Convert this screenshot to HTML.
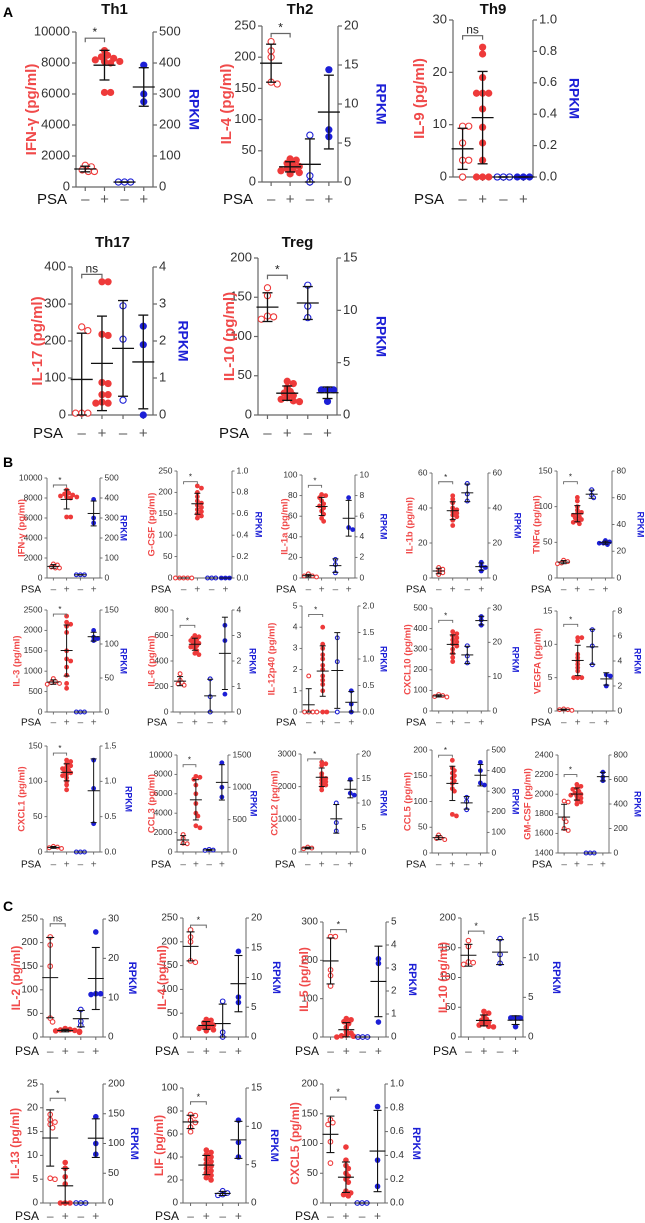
<!DOCTYPE html>
<html><head><meta charset="utf-8"><title>Cytokine panels</title>
<style>
html,body{margin:0;padding:0;background:#fff;}
svg{display:block;font-family:"Liberation Sans",Arial,sans-serif;}
</style></head>
<body>
<svg id="fig" width="645" height="1223" viewBox="0 0 645 1223" xmlns="http://www.w3.org/2000/svg">
<text x="3" y="17" font-size="14" font-weight="bold">A</text>
<text x="3" y="467" font-size="14" font-weight="bold">B</text>
<text x="3" y="911" font-size="14" font-weight="bold">C</text>
</svg>
<script>
// ---------- data ----------
const panelNames = ['th1','th2','th9','th17','treg','b-ifng','b-gcsf','b-il1a','b-il1b','b-tnfa','b-il3','b-il6','b-il12p40','b-cxcl10','b-vegfa','b-cxcl1','b-ccl3','b-cxcl2','b-ccl5','b-gmcsf','c-il2','c-il4','c-il5','c-il10','c-il13','c-lif','c-cxcl5'];
const titles = ['Th1','Th2','Th9','Th17','Treg','','','','','','','','','','','','','','','','','','','','','',''];
const yLabels = ['IFN-γ (pg/ml)','IL-4 (pg/ml)','IL-9  (pg/ml)','IL-17 (pg/ml)','IL-10 (pg/ml)',
 'IFN-γ (pg/ml)','G-CSF (pg/ml)','IL-1a (pg/ml)','IL-1b (pg/ml)','TNFα (pg/ml)',
 'IL-3 (pg/ml)','IL-6 (pg/ml)','IL-12p40 (pg/ml)','CXCL10  (pg/ml)','VEGFA  (pg/ml)',
 'CXCL1  (pg/ml)','CCL3 (pg/ml)','CXCL2 (pg/ml)','CCL5 (pg/ml)','GM-CSF (pg/ml)',
 'IL-2  (pg/ml)','IL-4 (pg/ml)','IL-5  (pg/ml)','IL-10 (pg/ml)','IL-13  (pg/ml)','LIF  (pg/ml)','CXCL5  (pg/ml)'];
const leftTickLabels = [
 ['0','2000','4000','6000','8000','10000'],['0','50','100','150','200','250'],['0','10','20','30'],['0','100','200','300','400'],['0','50','100','150','200'],
 ['0','2000','4000','6000','8000','10000'],['0','50','100','150','200','250'],['0','20','40','60','80','100'],['0','20','40','60'],['0','50','100','150'],
 ['0','500','1000','1500','2000','2500'],['0','200','400','600','800'],['0','1','2','3','4','5'],['0','100','200','300','400','500'],['0','5','10','15'],
 ['0','50','100','150'],['0','2000','4000','6000','8000','10000'],['0','1000','2000','3000'],['0','50','100','150','200'],['1400','1600','1800','2000','2200','2400'],
 ['0','50','100','150','200','250'],['0','50','100','150','200','250'],['0','100','200','300'],['0','50','100','150','200'],
 ['0','5','10','15','20','25'],['0','20','40','60','80','100'],['0','50','100','150','200']];
const rightTickLabels = [
 ['0','100','200','300','400','500'],['0','5','10','15','20'],['0.0','0.2','0.4','0.6','0.8','1.0'],['0','1','2','3','4'],['0','5','10','15'],
 ['0','100','200','300','400','500'],['0.0','0.2','0.4','0.6','0.8','1.0'],['0','2','4','6','8','10'],['0','20','40','60'],['0','20','40','60','80'],
 ['0','50','100','150'],['0','1','2','3','4'],['0.0','0.5','1.0','1.5','2.0'],['0','10','20','30'],['0','2','4','6','8'],
 ['0.0','0.5','1.0','1.5'],['0','500','1000','1500'],['0','5','10','15','20'],['0','100','200','300','400','500'],['0','200','400','600','800'],
 ['0','10','20','30'],['0','5','10','15','20'],['0','1','2','3','4','5'],['0','5','10','15'],
 ['0','50','100','150','200'],['0','5','10','15'],['0.0','0.2','0.4','0.6','0.8','1.0']];
const redNeg = [
 [1000,1000,1300,1400,1100],[225,210,200,160,157],[9.7,9.7,6.5,3.2,3.2,0],[238,228,5,5,5],[162,152,126,125,122],
 [1000,1000,1300,1400,1100],[0,0,0,0,0],[4,2,2,1],[6,5,4,3,2],[25,23,21,20],
 [820,750,720,700,680],[300,250,230,220,210],[1.7,0,0,0,0],[80,75,70,68],[0.3,0.2,0.2,0.1],
 [8,7,6,5],[1800,900,850,1400],[150,120,100],[35,30,28,26],[1930,1920,1750,1720,1650,1630],
 [212,195,150,40,32],[225,210,200,160,157],[262,262,175,160,133],[162,152,126,125,122],
 [18.6,17.5,17,16.5,15.8,5.2,5],[77,76,72,70,66,62],[140,135,132,103,67]];
const redPos = [
 [8800,8500,8400,8300,8200,8100,8100,8000,6100,6100],[37,35,30,28,25,22,20,18,15,13],[24.8,23.5,19,16,16,16,13,9.5,6.5,3.2,0,0,0],[360,360,218,215,88,85,55,55,35,32,32],[43,40,35,30,28,25,22,20,18,17],
 [8800,8500,8400,8300,8200,8100,8100,8000,6100,6100],[215,210,200,190,180,175,170,165,160,155,150,145,140],[81,80,78,75,72,70,68,65,62,58,55],[47,45,43,40,39,38,37,36,35,33,30],[113,108,100,95,92,90,88,86,84,82,80,78,76],
 [2350,2200,2150,2100,1950,1500,1300,1250,1100,900,700,580],[600,590,580,570,560,550,540,530,520,510,500,480,460,450],[4,3.2,3,2.7,2.5,2.2,2,1.7,1.5,1.3,1,0,0],[385,375,365,355,345,335,325,315,300,280,260,240],[11,11,10.5,8.5,8,7.5,7,6.5,6,5,5,5],
 [130,128,125,122,120,118,116,114,112,110,108,105,100,95,88],[7800,7700,7500,6900,6000,5000,4000,3700,2700,2500],[2750,2700,2650,2400,2300,2250,2200,2150,2100,2050,2000,1900],[180,165,160,155,150,145,140,135,125,120,75,72],[2100,2080,2060,2050,2030,2010,2000,1990,1980,1960,1940,1920,1900],
 [18,16,15,14,13,12,11,10],[37,35,30,28,25,22,20,18,15,13],[48,45,40,35,25,15,10,5,3,2,0,0],[43,40,35,30,28,25,22,20,18,17],
 [8.5,7.3,5.5,4,0,0,0],[46,44,42,40,38,36,34,32,30,28,26,24,22,20],[94,72,63,58,50,45,40,35,20,17,14,12]];
const blueNeg = [
 [16,16,16],[6,0.8,0],[0,0,0],[2.95,2.05,0.4],[12.4,10.4,9.3],
 [16,16,16],[0,0,0],[1.8,1.3,0.5],[54,48,44],[66,62,60],
 [0,0,0],[1.3,0.6,0],[1.4,0.95,0],[19,16,14],[6.5,5.2,3.7],
 [0,0,0],[40,30,25],[10,6,4.3],[270,250,210],[0,0,0],
 [7,4,3],[6,0.8,0],[0,0,0],[12.4,10.4,9.3],
 [0,0,0],[1.6,1.3,1.1,1],[0,0,0]];
const bluePos = [
 [393,300,275],[14.4,6.7,5.8],[0,0,0],[2.4,1.9,0],[2.4,2.4,2.4,1.3],
 [393,300,275],[0,0,0],[7.8,4.9,4.7],[9,7,6,4],[28,27,26,26,25],
 [120,110,108,105],[3.4,2.8,0.7],[0.4,0.15,0],[27.5,26.5,25],[2.9,2.8,2.0],
 [1.3,0.9,0.4],[1380,1000,850],[14.8,12,11.6],[440,400,340,330],[660,620,590],
 [26.7,11,11,10.8],[14.4,6.7,5.8],[3.4,3.2,0.65],[2.4,2.4,2.4,1.3],
 [145,100,82],[10.8,7.9,6],[0.81,0.36,0.14]];
const sigLabels = ['*','*','ns','ns','*','*','*','*','*','*','*','*','*','*','*','*','*','*','*','*','ns','*','*','*','*','*','*'];
const sigValues = [9600,238,27,380,178,9300,225,90,55,135,2400,680,4.6,440,13,140,9000,2850,190,2200,240,235,280,178,22,88,178];

// ---------- layout (pixels, not data) ----------
const layout = [
 [76,153,32,187,'A',44,40,200,10],[262,338,26,182,'A',35,42,200,10],[453,533,20,177,'A',33,40,200,10],[72,153,267,415,'A',34,29,434,243],[258,337,258,415,'A',28,43,434,243],
 [47,100,478,578,'B',25,23,590,0],[177,232,471,578,'B',25,26,590,0],[302,355,475,578,'B',17,28,590,0],[432,488,473,578,'B',22,29,590,0],[557,612,471,578,'B',20,28,590,0],
 [47,100,610,712,'B',30,23,723,0],[173,232,610,712,'B',21,20,723,0],[302,358,606,712,'B',30,25,723,0],[432,488,608,711,'B',24,27,723,0],[557,613,611,711,'B',19,24,723,0],
 [47,100,746,852,'B',25,28,865,0],[177,228,755,852,'B',25,25,865,0],[301,357,754,852,'B',26,26,865,0],[432,487,750,853,'B',24,28,865,0],[558,609,755,853,'B',30,28,865,0],
 [43,103,919,1037,'C',26,29,1052,0],[183,246,918,1037,'C',20,30,1052,0],[323,386,922,1037,'C',18,26,1052,0],[461,523,918,1037,'C',17,33,1052,0],
 [43,103,1084,1203,'C',27,31,1217,0],[183,246,1088,1203,'C',23,28,1217,0],[323,385,1084,1203,'C',27,31,1217,0]];
const sizes = {
 A:{r:3.6,tf:13,lf:15,pf:15,tl:4,cap:5,mh:11,sf:12,tw:15,lw:1.2},
 B:{r:2.4,tf:8.5,lf:9.5,pf:10,tl:2.5,cap:3,mh:6,sf:8,tw:0,lw:0.9},
 C:{r:2.8,tf:10,lf:12,pf:12,tl:3,cap:4,mh:8,sf:9,tw:0,lw:1}};
const RED='#ee3a3a', BLUE='#1c1fd6', LRED='#f04a4a', AX='#666';
const NS='http://www.w3.org/2000/svg';
const svg=document.getElementById('fig');
function mk(tag, attrs, parent){const e=document.createElementNS(NS,tag);for(const k in attrs)e.setAttribute(k,attrs[k]);parent.appendChild(e);return e;}
function meanSd(a){const m=a.reduce((s,v)=>s+v,0)/a.length;const sd=a.length>1?Math.sqrt(a.reduce((s,v)=>s+(v-m)*(v-m),0)/(a.length-1)):0;return [m,sd];}

function drawPanel(i){
 const [L,R,T,B,sz,lo,ro,py,ty]=layout[i];const S=sizes[sz];
 const lt=leftTickLabels[i].map(Number), rt=rightTickLabels[i].map(Number);
 const lmin=lt[0],lmax=lt[lt.length-1],rmin=rt[0],rmax=rt[rt.length-1];
 const yL=v=>B-(v-lmin)/(lmax-lmin)*(B-T);
 const yR=v=>B-(v-rmin)/(rmax-rmin)*(B-T);
 const cats=[0.12,0.37,0.63,0.88].map(f=>L+(R-L)*f);
 const g=mk('g',{},svg);
 
 
 if(titles[i]){
  const t=mk('text',{x:(L+R)/2,y:ty,'font-size':S.tw,'font-weight':'bold','text-anchor':'middle','dominant-baseline':'middle',fill:'#111'},g);t.textContent=titles[i];
  
  
 }
 const la=mk('line',{x1:L,y1:T,x2:L,y2:B,stroke:AX,'stroke-width':S.lw},g);
 
 
 const ra=mk('line',{x1:R,y1:T,x2:R,y2:B,stroke:AX,'stroke-width':S.lw},g);
 
 
 const xa=mk('line',{x1:L,y1:B,x2:R,y2:B,stroke:AX,'stroke-width':S.lw},g);
 
 
 leftTickLabels[i].forEach(lab=>{const y=yL(+lab);
  mk('line',{x1:L-S.tl,y1:y,x2:L,y2:y,stroke:AX,'stroke-width':S.lw},g);
  const t=mk('text',{x:L-S.tl-2,y:y,'font-size':S.tf,'text-anchor':'end','dominant-baseline':'middle',fill:'#333'},g);t.textContent=lab;
  
  });
 rightTickLabels[i].forEach(lab=>{const y=yR(+lab);
  mk('line',{x1:R,y1:y,x2:R+S.tl,y2:y,stroke:AX,'stroke-width':S.lw},g);
  const t=mk('text',{x:R+S.tl+2,y:y,'font-size':S.tf,'text-anchor':'start','dominant-baseline':'middle',fill:'#333'},g);t.textContent=lab;
  
  });
 cats.forEach(cx=>mk('line',{x1:cx,y1:B,x2:cx,y2:B+S.tl,stroke:AX,'stroke-width':S.lw},g));
 const yl=mk('text',{x:L-lo,y:(T+B)/2,'font-size':S.lf,'font-weight':'bold','text-anchor':'middle','dominant-baseline':'middle',fill:LRED,transform:`rotate(-90 ${L-lo} ${(T+B)/2})`,'xml:space':'preserve'},g);yl.textContent=yLabels[i];
 
 
 const rl=mk('text',{x:R+ro,y:(T+B)/2,'font-size':S.lf*0.93,'font-weight':'bold','text-anchor':'middle','dominant-baseline':'middle',fill:BLUE,transform:`rotate(90 ${R+ro} ${(T+B)/2})`},g);rl.textContent='RPKM';
 
 
 const groups=[[redNeg[i],yL,RED,false],[redPos[i],yL,RED,true],[blueNeg[i],yR,BLUE,false],[bluePos[i],yR,BLUE,true]];
 groups.forEach((gr,gi)=>{
  const [vals,sc,col,filled]=gr;const cx=cats[gi];const r=S.r;
  const minD=r*1.35, step=r*0.85;
  const placed=[];
  vals.map(v=>sc(v)).sort((a,b)=>a-b).forEach(y=>{
   let x=cx;
   for(let n=0;n<12;n++){const k=n===0?0:(n%2?Math.ceil(n/2):-Math.ceil(n/2));x=cx+k*step;
    if(placed.every(p=>Math.hypot(p[0]-x,p[1]-y)>=minD))break;}
   placed.push([x,y]);
   const c=mk('circle',{cx:x,cy:y,r:filled?r:r-0.5,fill:filled?col:'#fff',stroke:col,'stroke-width':filled?0:1.1},g);
   
   
  });
  const [m,sd]=meanSd(vals);
  const yt=sc(m+sd),yb=sc(Math.max(m-sd,gi<2?lmin:rmin)),ym=sc(m);
  const eb=mk('g',{stroke:'#111','stroke-width':S.lw*1.1},g);
  
  
  mk('line',{x1:cx,y1:yt,x2:cx,y2:yb},eb);
  mk('line',{x1:cx-S.cap,y1:yt,x2:cx+S.cap,y2:yt},eb);
  mk('line',{x1:cx-S.cap,y1:yb,x2:cx+S.cap,y2:yb},eb);
  mk('line',{x1:cx-S.mh,y1:ym,x2:cx+S.mh,y2:ym},eb);
 });
 const sy=yL(sigValues[i]);
 const br=mk('path',{d:`M${cats[0]},${sy+S.tl} V${sy} H${cats[1]} V${sy+S.tl}`,fill:'none',stroke:AX,'stroke-width':S.lw},g);
 
 
 const st=mk('text',{x:(cats[0]+cats[1])/2,y:sy-2,'font-size':S.sf,'text-anchor':'middle',fill:'#222'},g);st.textContent=sigLabels[i];
 
 
 const off=sz==='A'?9:(sz==='B'?6:4);
 const pt=mk('text',{x:L-off,y:py,'font-size':S.pf,'text-anchor':'end','dominant-baseline':'middle',fill:'#111'},g);pt.textContent='PSA';
 
 
 ['–','+','–','+'].forEach((s,k)=>{const t=mk('text',{x:cats[k],y:py,'font-size':S.pf,'text-anchor':'middle','dominant-baseline':'middle',fill:'#555'},g);t.textContent=s;
  
  });
}
for(let i=0;i<panelNames.length;i++)drawPanel(i);
</script>
</body></html>
